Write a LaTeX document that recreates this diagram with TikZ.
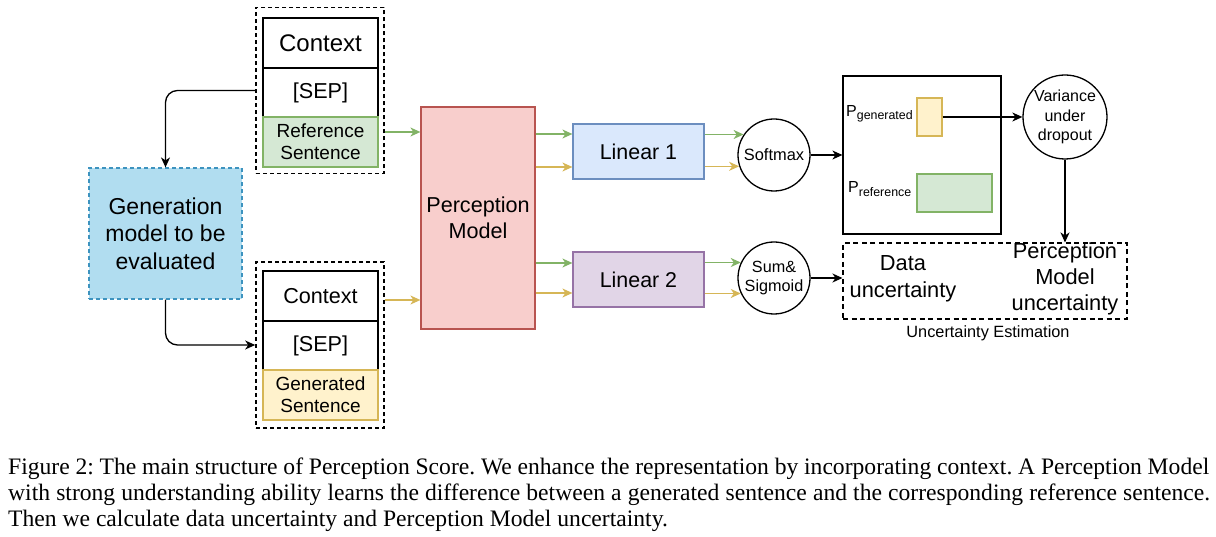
\documentclass[tikz,border=0pt]{standalone}
\usepackage{fontspec}
\setmainfont{Liberation Sans}
\newfontfamily\capfont{Liberation Serif}
\usetikzlibrary{arrows.meta,calc}
\definecolor{gmfill}{HTML}{B1DDF0}
\definecolor{gmdraw}{HTML}{3D93BF}
\definecolor{pmfill}{HTML}{F8CECC}
\definecolor{pmdraw}{HTML}{B85450}
\definecolor{lafill}{HTML}{DAE8FC}
\definecolor{ladraw}{HTML}{6C8EBF}
\definecolor{lbfill}{HTML}{E1D5E7}
\definecolor{lbdraw}{HTML}{9673A6}
\definecolor{grfill}{HTML}{D5E8D4}
\definecolor{grdraw}{HTML}{82B366}
\definecolor{ylfill}{HTML}{FFF2CC}
\definecolor{yldraw}{HTML}{D6B656}
\newcommand\fsz[2]{\fontsize{#1}{#2}\selectfont}
\begin{document}
\begin{tikzpicture}[x=1pt,y=-1pt,
  box/.style={draw, line width=1.5pt, inner sep=0pt, align=center},
  grp/.style={draw, line width=1.6pt, dash pattern=on 4pt off 3pt, inner sep=0pt},
  sbox/.style={draw, line width=1.2pt, inner sep=0pt, align=center},
  circ/.style={draw, circle, line width=1.3pt, inner sep=0pt, align=center},
  tip/.style={-{Stealth[length=10pt,width=9pt,inset=3pt]}},
  karrow/.style={tip, line width=1.3pt, black},
  garrow/.style={tip, line width=1.4pt, grdraw},
  yarrow/.style={tip, line width=1.4pt, yldraw},
]
\useasboundingbox (0,0) rectangle (1216,537);

% top group
\node[grp, minimum width=128pt, minimum height=166pt] (tg) at (320,90.5) {};
\node[box, minimum width=115pt, minimum height=50pt, font=\fsz{24}{28}] (ctxa) at (320.5,43) {Context};
\node[box, minimum width=115pt, minimum height=49pt, font=\fsz{21.6}{26}] (sepa) at (320.5,92.5) {[SEP]};
\node[box, draw=grdraw, fill=grfill, minimum width=115pt, minimum height=50pt, font=\fsz{19}{22}] (refs) at (320.5,142) {Reference\\Sentence};

% bottom group
\node[grp, minimum width=128pt, minimum height=166pt] (bg) at (320,345) {};
\node[box, minimum width=115pt, minimum height=50pt, font=\fsz{21.6}{26}] (ctxb) at (320.5,296) {Context};
\node[box, minimum width=115pt, minimum height=49pt, font=\fsz{21.6}{26}] (sepb) at (320.5,345.5) {[SEP]};
\node[box, draw=yldraw, fill=ylfill, minimum width=115pt, minimum height=50pt, font=\fsz{19}{22}] (gens) at (320.5,395) {Generated\\Sentence};

% generation model
\node[sbox, draw=gmdraw, fill=gmfill, dash pattern=on 4pt off 3pt, minimum width=153pt, minimum height=131pt, font=\fsz{23}{27.5}] (gm) at (165.5,233.5) {Generation\\model to be\\evaluated};

\draw[karrow, rounded corners=12pt] (tg.west) -| (gm.north);
\draw[karrow, rounded corners=12pt] (gm.south) |- (bg.west);

% perception model
\node[sbox, draw=pmdraw, fill=pmfill, minimum width=114pt, minimum height=222pt, font=\fsz{21.6}{25.5}] (pm) at (478,218) {Perception\\Model};
\draw[garrow] (tg.east |- 0,132) -- (pm.west |- 0,132);
\draw[yarrow] (bg.east |- 0,300) -- (pm.west |- 0,300);

% linear layers
\node[sbox, draw=ladraw, fill=lafill, minimum width=131pt, minimum height=55pt, font=\fsz{21.4}{25}] (la) at (638.5,151.5) {Linear 1};
\node[sbox, draw=lbdraw, fill=lbfill, minimum width=131pt, minimum height=55pt, font=\fsz{21.4}{25}] (lb) at (638.5,279.5) {Linear 2};
\draw[garrow] (pm.east |- 0,134) -- (la.west |- 0,134);
\draw[yarrow] (pm.east |- 0,167) -- (la.west |- 0,167);
\draw[garrow] (pm.east |- 0,263) -- (lb.west |- 0,263);
\draw[yarrow] (pm.east |- 0,293) -- (lb.west |- 0,293);

% circles
\node[circ, minimum size=72pt, font=\fsz{16.4}{19}] (sm) at (774,155) {Softmax};
\node[circ, minimum size=72pt, font=\fsz{16.2}{18.5}] (ss) at (774,278) {Sum\&\\Sigmoid};
\draw[garrow] (la.east |- sm.146) -- (sm.146);
\draw[yarrow] (la.east |- sm.198) -- (sm.198);
\draw[garrow] (lb.east |- ss.155) -- (ss.155);
\draw[yarrow] (lb.east |- ss.205) -- (ss.205);

% probability box
\node[sbox, minimum width=158pt, minimum height=158pt] (bb) at (922,155) {};
\node[sbox, draw=yldraw, fill=ylfill, minimum width=25pt, minimum height=38pt] (pg) at (929.5,117) {};
\node[sbox, draw=grdraw, fill=grfill, minimum width=75pt, minimum height=38pt] (pr) at (954.5,193) {};
\node[anchor=west, inner sep=0pt] (pgl) at (846,114) {\fsz{16}{18}P\raisebox{-3.5pt}{\fsz{12.4}{14}generated}};
\node[anchor=west, inner sep=0pt] (prl) at (848,189) {\fsz{16}{18}P\raisebox{-3.5pt}{\fsz{12.4}{14}reference}};
\draw[karrow] (sm.east) -- (bb.west);

% variance
\node[circ, minimum size=84pt, font=\fsz{16}{19.5}] (vc) at (1065,117) {Variance\\under\\dropout};
\draw[karrow] (pg.east) -- (vc.west);

% uncertainty estimation
\node[draw, line width=1.1pt, dash pattern=on 5pt off 3.5pt, minimum width=284pt, minimum height=76pt, inner sep=0pt] (ub) at (985,281) {};
\node[align=center, inner sep=0pt, font=\fsz{21.8}{27}] (du) at (903,278.5) {Data\\uncertainty};
\node[align=center, inner sep=0pt, font=\fsz{21.8}{26}] (pu) at (1065,279) {Perception\\Model\\uncertainty};
\node[inner sep=0pt, font=\fsz{16.3}{19}] (uel) at (988,333) {Uncertainty Estimation};
\draw[karrow] (vc.south) -- (vc.south |- ub.north);
\draw[karrow] (ss.east) -- (ss.east -| ub.west);

% caption
\node[anchor=base west, inner sep=0pt, font=\capfont\fsz{23.6}{26}\frenchspacing] (cap1) at (8,474) {\makebox[1201pt][s]{Figure 2: The main structure of Perception Score. We enhance the representation by incorporating context. A Perception Model}};
\node[anchor=base west, inner sep=0pt, font=\capfont\fsz{23.6}{26}\frenchspacing] (cap2) at (8,500) {\makebox[1202pt][s]{with strong understanding ability learns the difference between a generated sentence and the corresponding reference sentence.}};
\node[anchor=base west, inner sep=0pt, font=\capfont\fsz{23.6}{26}\frenchspacing] (cap3) at (8,526) {Then we calculate data uncertainty and Perception Model uncertainty.};
\end{tikzpicture}
\end{document}
